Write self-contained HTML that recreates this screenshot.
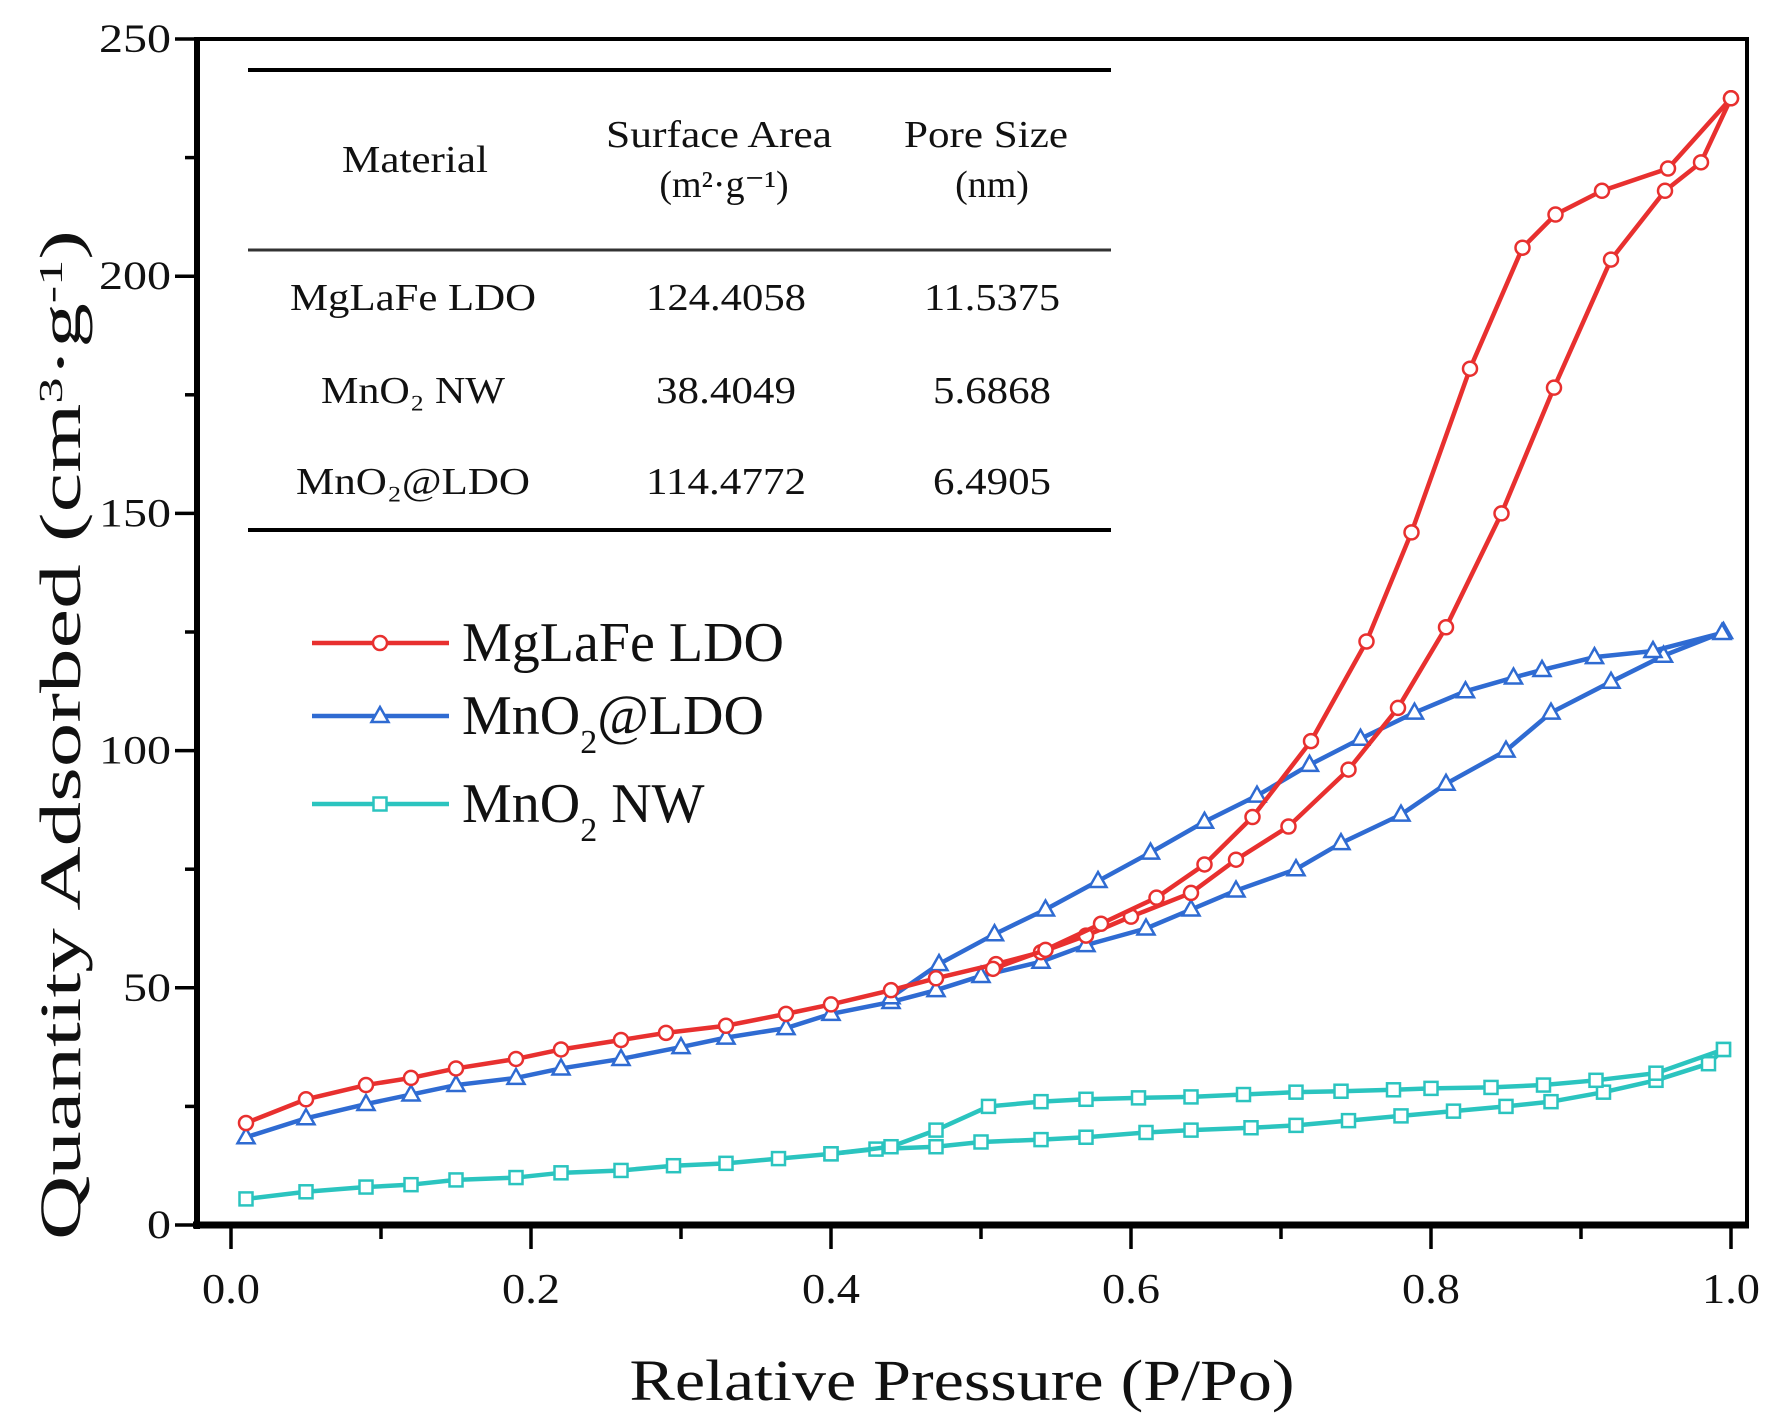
<!DOCTYPE html>
<html><head><meta charset="utf-8"><style>
html,body{margin:0;padding:0;background:#fff;}
svg{display:block;font-family:"Liberation Serif",serif;}
</style></head><body>
<svg id="chart" width="1781" height="1426" viewBox="0 0 1781 1426" xmlns="http://www.w3.org/2000/svg">
<rect width="1781" height="1426" fill="#fff"/>
<g id="axes"></g>
<g id="series"></g>
<g id="table">
 <line x1="248" y1="70" x2="1111" y2="70" stroke="#000" stroke-width="4"/>
 <line x1="248" y1="250" x2="1111" y2="250" stroke="#333" stroke-width="3"/>
 <line x1="248" y1="530" x2="1111" y2="530" stroke="#000" stroke-width="4"/>
 <g font-size="38" text-anchor="middle" fill="#111">
  <text x="415" y="172" textLength="146" lengthAdjust="spacingAndGlyphs">Material</text>
  <text x="719" y="147" textLength="226" lengthAdjust="spacingAndGlyphs">Surface Area</text>
  <text x="724" y="197">(m²·g⁻¹)</text>
  <text x="986" y="147" textLength="164" lengthAdjust="spacingAndGlyphs">Pore Size</text>
  <text x="992" y="197">(nm)</text>
  <text x="413" y="310" textLength="246" lengthAdjust="spacingAndGlyphs">MgLaFe LDO</text>
  <text x="726" y="310" textLength="160" lengthAdjust="spacingAndGlyphs">124.4058</text>
  <text x="992" y="310" textLength="136" lengthAdjust="spacingAndGlyphs">11.5375</text>
  <text x="413" y="403" textLength="184" lengthAdjust="spacingAndGlyphs">MnO₂ NW</text>
  <text x="726" y="403" textLength="140" lengthAdjust="spacingAndGlyphs">38.4049</text>
  <text x="992" y="403" textLength="118" lengthAdjust="spacingAndGlyphs">5.6868</text>
  <text x="413" y="494" textLength="234" lengthAdjust="spacingAndGlyphs">MnO₂@LDO</text>
  <text x="726" y="494" textLength="160" lengthAdjust="spacingAndGlyphs">114.4772</text>
  <text x="992" y="494" textLength="118" lengthAdjust="spacingAndGlyphs">6.4905</text>
 </g>
</g>
<g id="legend"></g>
</svg>
<script>
const xTicks=[0,0.2,0.4,0.6,0.8,1.0];
const xTickLabels=["0.0","0.2","0.4","0.6","0.8","1.0"];
const yTicks=[0,50,100,150,200,250];
const yTickLabels=["0","50","100","150","200","250"];
const seriesNames=["MgLaFe LDO","MnO2@LDO","MnO2 NW"];
const redAdsX=[0.01,0.05,0.09,0.12,0.15,0.19,0.22,0.26,0.29,0.33,0.37,0.40,0.44,0.47,0.51,0.54,0.57,0.60,0.64,0.67,0.705,0.745,0.778,0.81,0.847,0.882,0.92,0.956,0.98,1.0];
const redAdsY=[21.5,26.5,29.5,31,33,35,37,39,40.5,42,44.5,46.5,49.5,52,55,57.5,61,65,70,77,84,96,109,126,150,176.5,203.5,218,224,237.5];
const redDesX=[1.0,0.958,0.914,0.883,0.861,0.826,0.787,0.757,0.72,0.681,0.649,0.617,0.58,0.543,0.508];
const redDesY=[237.5,222.7,218,213,206,180.5,146,123,102,86,76,69,63.5,58,54];
const blueAdsX=[0.01,0.05,0.09,0.12,0.15,0.19,0.22,0.26,0.30,0.33,0.37,0.40,0.44,0.47,0.50,0.54,0.57,0.61,0.64,0.67,0.71,0.74,0.78,0.81,0.85,0.88,0.92,0.955,0.995];
const blueAdsY=[18.5,22.5,25.5,27.5,29.5,31,33,35,37.5,39.5,41.5,44.5,47,49.5,52.5,55.5,59,62.5,66.5,70.5,75,80.5,86.5,93,100,108,114.5,120,125];
const blueDesX=[0.994,0.948,0.909,0.874,0.855,0.823,0.789,0.753,0.719,0.684,0.649,0.613,0.578,0.543,0.509,0.472,0.44];
const blueDesY=[124.8,121,119.7,117,115.4,112.5,108,102.5,97,90.5,85,78.5,72.5,66.5,61.3,55,48];
const cyanAdsX=[0.01,0.05,0.09,0.12,0.15,0.19,0.22,0.26,0.295,0.33,0.365,0.40,0.43,0.47,0.50,0.54,0.57,0.61,0.64,0.68,0.71,0.745,0.78,0.815,0.85,0.88,0.915,0.95,0.985,0.995];
const cyanAdsY=[5.5,7,8,8.5,9.5,10,11,11.5,12.5,13,14,15,16,16.5,17.5,18,18.5,19.5,20,20.5,21,22,23,24,25,26,28,30.5,34,37];
const cyanDesX=[0.995,0.95,0.91,0.875,0.84,0.80,0.775,0.74,0.71,0.675,0.64,0.605,0.57,0.54,0.505,0.47,0.44,0.40];
const cyanDesY=[37,32,30.5,29.5,29,28.8,28.5,28.2,28,27.5,27,26.8,26.5,26,25,20,16.5,15];

const NS="http://www.w3.org/2000/svg";
const X0=231,X1=1731,Y0=1225,Y1=39;
const xs=v=>X0+(X1-X0)*v;
const ys=v=>Y0-(Y0-Y1)*v/250;
function mk(tag,attrs,parent){const e=document.createElementNS(NS,tag);for(const k in attrs)e.setAttribute(k,attrs[k]);parent.appendChild(e);return e;}
const axes=document.getElementById('axes');
const frame=mk('rect',{x:197,y:39,width:1550,height:1186,fill:'none',stroke:'#000','stroke-width':4},axes);


const xAxisLine=mk('line',{x1:193,y1:1225,x2:1749,y2:1225,stroke:'#000','stroke-width':7},axes);


const yAxisLine=mk('line',{x1:197,y1:37,x2:197,y2:1229,stroke:'#000','stroke-width':6},axes);


for(let i=0;i<=10;i++){const v=i/10;const major=i%2===0;
 const t=mk('line',{x1:xs(v),y1:1225,x2:xs(v),y2:1225+(major?24:14),stroke:'#000','stroke-width':3.5},axes);
 
 }
xTicks.forEach((v,i)=>{const t=mk('text',{x:xs(v),y:1303,'font-size':42,'text-anchor':'middle',fill:'#111',textLength:58,lengthAdjust:'spacingAndGlyphs'},axes);
 t.textContent=xTickLabels[i];
 
 });
for(let i=0;i<=10;i++){const v=i*25;const major=i%2===0;
 const t=mk('line',{x1:197-(major?22:12),y1:ys(v),x2:197,y2:ys(v),stroke:'#000','stroke-width':3.5},axes);
 
 }
yTicks.forEach((v,i)=>{const t=mk('text',{x:171,y:ys(v)+13,'font-size':40,'text-anchor':'end',fill:'#111',textLength:yTickLabels[i].length*24,lengthAdjust:'spacingAndGlyphs'},axes);
 t.textContent=yTickLabels[i];
 
 });
const xt=mk('text',{x:962,y:1400,'font-size':58,'text-anchor':'middle',fill:'#111',textLength:665,lengthAdjust:'spacingAndGlyphs'},axes);
xt.textContent='Relative Pressure (P/Po)';


const yt=mk('text',{x:0,y:0,'font-size':58,'text-anchor':'middle',fill:'#111',transform:'translate(80,735) rotate(-90)',textLength:1010,lengthAdjust:'spacingAndGlyphs'},axes);
yt.innerHTML='Quantity Adsorbed (cm<tspan baseline-shift="super" font-size="34">3</tspan>·g<tspan baseline-shift="super" font-size="34">-1</tspan>)';



const colors=['#e8302f','#2f6bd2','#2bc4bf'];
function marker(type,x,y,c,g){
 let e;
 if(type==='circle')e=mk('circle',{cx:x,cy:y,r:7,fill:'#fff',stroke:c,'stroke-width':2.5},g);
 else if(type==='tri')e=mk('polygon',{points:`${x},${y-9} ${x-8.5},${y+6} ${x+8.5},${y+6}`,fill:'#fff',stroke:c,'stroke-width':2.5},g);
 else e=mk('rect',{x:x-6.5,y:y-6.5,width:13,height:13,fill:'#fff',stroke:c,'stroke-width':2.5},g);
 return e;}
const sg=document.getElementById('series');
function drawSeries(xsArr,ysArr,c,type,name){
 const g=mk('g',{},sg);
 
 
 const pts=xsArr.map((v,i)=>xs(v)+','+ys(ysArr[i])).join(' ');
 const pl=mk('polyline',{points:pts,fill:'none',stroke:c,'stroke-width':4.5},g);
 
 
 xsArr.forEach((v,i)=>{const m=marker(type,xs(v),ys(ysArr[i]),c,g);
  
  });
}
drawSeries(cyanAdsX,cyanAdsY,colors[2],'sq','mno2-nw-adsorption');
drawSeries(cyanDesX,cyanDesY,colors[2],'sq','mno2-nw-desorption');
drawSeries(blueAdsX,blueAdsY,colors[1],'tri','mno2-ldo-adsorption');
drawSeries(blueDesX,blueDesY,colors[1],'tri','mno2-ldo-desorption');
drawSeries(redAdsX,redAdsY,colors[0],'circle','mglafe-ldo-adsorption');
drawSeries(redDesX,redDesY,colors[0],'circle','mglafe-ldo-desorption');

const lg=document.getElementById('legend');
const legY=[643,716,804];const types=['circle','tri','sq'];
const legLabels=['MgLaFe LDO','MnO<tspan baseline-shift="sub" font-size="34">2</tspan>@LDO','MnO<tspan baseline-shift="sub" font-size="34">2</tspan> NW'];
legY.forEach((y,i)=>{
 const g=mk('g',{},lg);
 
 
 mk('line',{x1:312,y1:y,x2:449,y2:y,stroke:colors[i],'stroke-width':4.5},g);
 marker(types[i],380,y,colors[i],g);
 const t=mk('text',{x:462,y:y+18,'font-size':56,fill:'#111'},g);
 t.innerHTML=legLabels[i];
 
 
});
</script>
</body></html>
